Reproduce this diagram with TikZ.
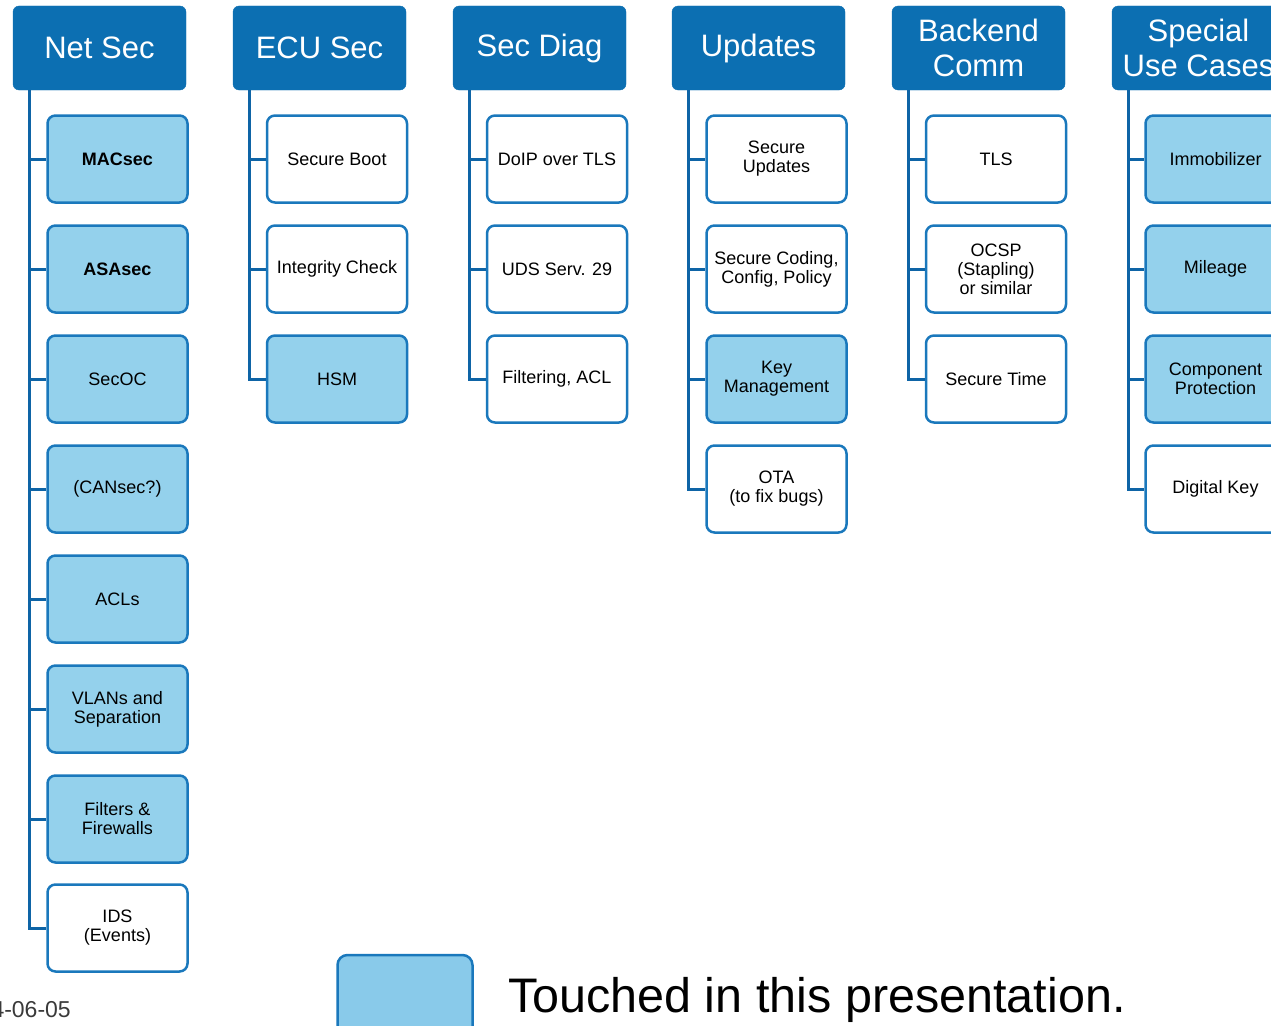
\documentclass[tikz,border=0pt]{standalone}
\usepackage{fontspec}
\setmainfont{Liberation Sans}
\definecolor{hdrblue}{HTML}{0C6FB2}
\definecolor{linkblue}{HTML}{0E64A6}
\definecolor{edgeblue}{HTML}{1A78BC}
\definecolor{lightblue}{HTML}{94D1EC}
\definecolor{legendblue}{HTML}{89CAEA}
\definecolor{dategray}{HTML}{3A3A3A}
\tikzset{
  hdr/.style={draw=hdrblue, fill=hdrblue, rounded corners=6pt, minimum width=173pt,
    minimum height=84pt, inner sep=0pt, align=center, text=white,
    font=\fontsize{31}{35}\selectfont},
  item/.style={draw=edgeblue, line width=2.5pt, fill=white, rounded corners=8pt,
    minimum width=140pt, minimum height=87pt, inner sep=0pt, align=center,
    font=\fontsize{18}{19}\selectfont},
  hit/.style={item, fill=lightblue},
  conn/.style={draw=linkblue, line width=3pt},
}
\begin{document}
\begin{tikzpicture}[x=1pt, y=-1pt]
\useasboundingbox (0,0) rectangle (1271,1025);
\clip (0,0) rectangle (1271,1025);

% column headers
\node[hdr] (h1) at (99.5,48) {Net Sec};
\node[hdr] (h2) at (319.5,48) {ECU Sec};
\node[hdr] (h3) at (539.5,48) {Sec Diag};
\node[hdr] (h4) at (758.5,48) {Updates};
\node[hdr] (h5) at (978.5,48) {Backend\\Comm};
\node[hdr] (h6) at (1198.5,48) {Special\\Use Cases};

% Net Sec
\node[hit] (a1) at (117.5,159) {\textbf{MACsec}};
\node[hit] (a2) at (117.5,269) {\textbf{ASAsec}};
\node[hit] (a3) at (117.5,379) {SecOC};
\node[hit] (a4) at (117.5,489) {(CANsec?)};
\node[hit] (a5) at (117.5,599) {ACLs};
\node[hit] (a6) at (117.5,709) {VLANs and\\Separation};
\node[hit] (a7) at (117.5,819) {Filters \&\\Firewalls};
\node[item] (a8) at (117.5,928) {IDS\\(Events)};

% ECU Sec
\node[item] (b1) at (337,159) {Secure Boot};
\node[item] (b2) at (337,269) {Integrity Check};
\node[hit] (b3) at (337,379) {HSM};

% Sec Diag
\node[item] (c1) at (557,159) {DoIP over TLS};
\node[item] (c2) at (557,269) {UDS Serv. 29};
\node[item] (c3) at (557,379) {Filtering, ACL};

% Updates
\node[item] (d1) at (776.5,159) {Secure\\Updates};
\node[item] (d2) at (776.5,269) {Secure Coding,\\Config, Policy};
\node[hit] (d3) at (776.5,379) {Key\\Management};
\node[item] (d4) at (776.5,489) {OTA\\(to fix bugs)};

% Backend Comm
\node[item] (e1) at (996,159) {TLS};
\node[item] (e2) at (996,269) {OCSP\\(Stapling)\\or similar};
\node[item] (e3) at (996,379) {Secure Time};

% Special Use Cases
\node[hit] (f1) at (1215.5,159) {Immobilizer};
\node[hit] (f2) at (1215.5,269) {Mileage};
\node[hit] (f3) at (1215.5,379) {Component\\Protection};
\node[item] (f4) at (1215.5,489) {Digital Key};

% connectors from each header down its spine to the items
\foreach \h/\list in {h1/{a1,a2,a3,a4,a5,a6,a7,a8}, h2/{b1,b2,b3}, h3/{c1,c2,c3},
                      h4/{d1,d2,d3,d4}, h5/{e1,e2,e3}, h6/{f1,f2,f3,f4}} {
  \foreach \c in \list {
    \draw[conn] ([xshift=17pt]\h.south west) |- (\c.west);
  }
}

% legend
\node[draw=edgeblue, line width=2.5pt, fill=legendblue, rounded corners=10pt,
      minimum width=135pt, minimum height=90pt, inner sep=0pt] (key) at (405,1000) {};
\node[anchor=base west, inner sep=0pt, font=\fontsize{48.5}{54}\selectfont] (keytext)
      at (508,1012) {Touched in this presentation.};
\node[anchor=base east, inner sep=0pt, text=dategray, font=\fontsize{23}{24}\selectfont] (date)
      at (71,1017) {2024-06-05};
\end{tikzpicture}
\end{document}
